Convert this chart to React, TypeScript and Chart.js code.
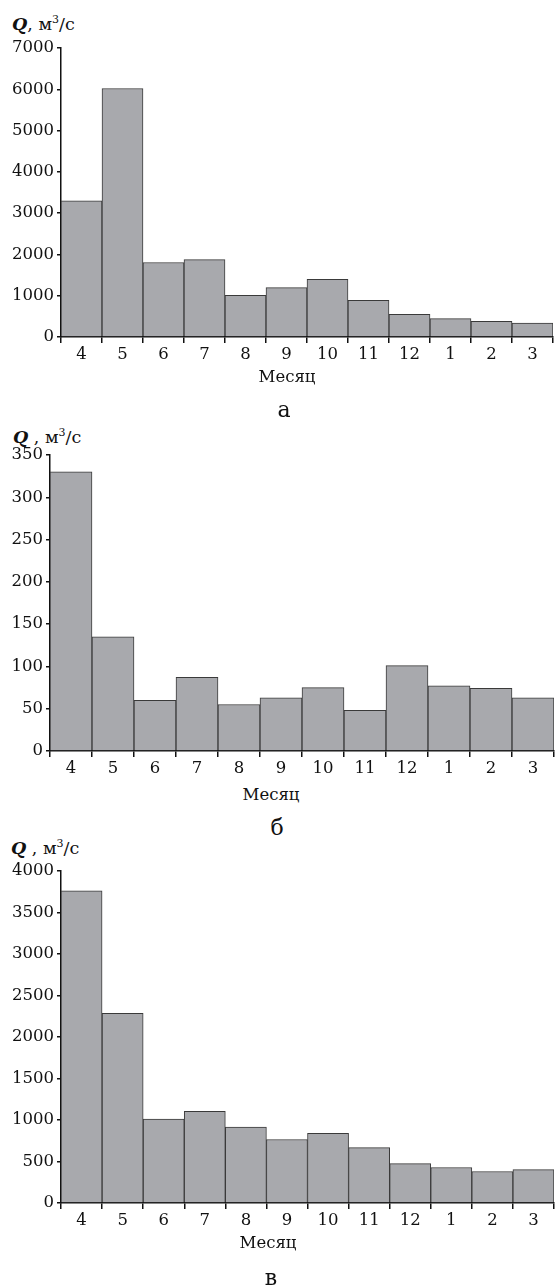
import React, { useEffect, useRef } from "react";
import { Chart, registerables } from "chart.js";

Chart.register(...registerables);

const months = ["4", "5", "6", "7", "8", "9", "10", "11", "12", "1", "2", "3"];
const flowA = [3300, 6020, 1805, 1875, 1010, 1195, 1395, 890, 550, 445, 380, 340];
const flowB = [330, 135, 60, 87, 55, 63, 75, 48, 101, 77, 74, 63];
const flowC = [3760, 2285, 1010, 1105, 915, 765, 840, 668, 475, 428, 380, 402];
const ticksA = { max: 7000, step: 1000 };
const ticksB = { max: 350, step: 50 };
const ticksC = { max: 4000, step: 500 };

const FONT = "'DejaVu Serif', serif";

type BarProps = {
  values: number[];
  max: number;
  step: number;
  top: number;
  height: number;
  padTop: number;
  padRight: number;
  axisWidth: number;
};

function BarChart(p: BarProps) {
  const ref = useRef<HTMLCanvasElement | null>(null);
  useEffect(() => {
    if (!ref.current) return;
    const chart = new Chart(ref.current, {
      type: "bar",
      data: {
        labels: months,
        datasets: [
          {
            data: p.values,
            backgroundColor: "#a8a9ad",
            borderColor: "#3a3a3a",
            borderWidth: 1,
            categoryPercentage: 1,
            barPercentage: 1,
          },
        ],
      },
      options: {
        animation: false,
        responsive: false,
        maintainAspectRatio: false,
        layout: { padding: { top: p.padTop, right: p.padRight, left: 0, bottom: 0 } },
        plugins: { legend: { display: false }, tooltip: { enabled: false }, title: { display: false } },
        scales: {
          x: {
            offset: true,
            grid: {
              offset: true,
              drawOnChartArea: false,
              drawTicks: true,
              tickLength: 6,
              color: "#111",
              lineWidth: 1.5,
            },
            border: { display: true, color: "#111", width: 1.5 },
            ticks: { color: "#111", font: { family: FONT, size: 16.5 }, padding: 2, maxRotation: 0, autoSkip: false },
            afterFit: (s: any) => {
              s.height = 30;
            },
          },
          y: {
            min: 0,
            max: p.max,
            grid: { drawOnChartArea: false, drawTicks: true, tickLength: 4, color: "#111", lineWidth: 1.5 },
            border: { display: true, color: "#111", width: 1.5 },
            ticks: {
              stepSize: p.step,
              color: "#111",
              font: { family: FONT, size: 16.5 },
              padding: 3,
              callback: (v: any) => String(v),
            },
            afterFit: (s: any) => {
              s.width = p.axisWidth;
            },
          },
        },
      },
    });
    return () => chart.destroy();
  }, []);
  return (
    <canvas
      ref={ref}
      width={555}
      height={p.height}
      style={{ position: "absolute", left: 0, top: p.top, width: 555, height: p.height }}
    />
  );
}

function Txt(props: { x: number; y: number; size: number; children: React.ReactNode; left?: boolean }) {
  return (
    <div
      style={{
        position: "absolute",
        left: props.x,
        top: props.y,
        transform: props.left ? "translate(0,-50%)" : "translate(-50%,-50%)",
        fontFamily: FONT,
        fontSize: props.size,
        color: "#111",
        whiteSpace: "nowrap",
        lineHeight: 1,
      }}
    >
      {props.children}
    </div>
  );
}

function QLabel(props: { x: number; y: number; spaced: boolean }) {
  return (
    <Txt x={props.x} y={props.y} size={17.5} left>
      <b>
        <i>Q</i>
      </b>
      {props.spaced ? " , " : ",  "}
      м<sup style={{ fontSize: 11, verticalAlign: "7px" }}>3</sup>/с
    </Txt>
  );
}

export default function App() {
  return (
    <div style={{ position: "absolute", left: 0, top: 0, width: 555, height: 1286, background: "#fff", overflow: "hidden" }}>
      <QLabel x={12} y={24} spaced={false} />
      <BarChart values={flowA} max={ticksA.max} step={ticksA.step} top={0} height={367} padTop={48} padRight={2} axisWidth={61} />
      <Txt x={287} y={377} size={16.5}>Месяц</Txt>
      <Txt x={284} y={410} size={22}>а</Txt>

      <QLabel x={13} y={437} spaced={true} />
      <BarChart values={flowB} max={ticksB.max} step={ticksB.step} top={420} height={361} padTop={35} padRight={1} axisWidth={50} />
      <Txt x={271} y={795} size={16.5}>Месяц</Txt>
      <Txt x={277} y={828} size={22}>б</Txt>

      <QLabel x={11} y={848} spaced={true} />
      <BarChart values={flowC} max={ticksC.max} step={ticksC.step} top={835} height={398} padTop={36} padRight={1} axisWidth={61} />
      <Txt x={268} y={1243} size={16.5}>Месяц</Txt>
      <Txt x={271} y={1278} size={22}>в</Txt>
    </div>
  );
}
